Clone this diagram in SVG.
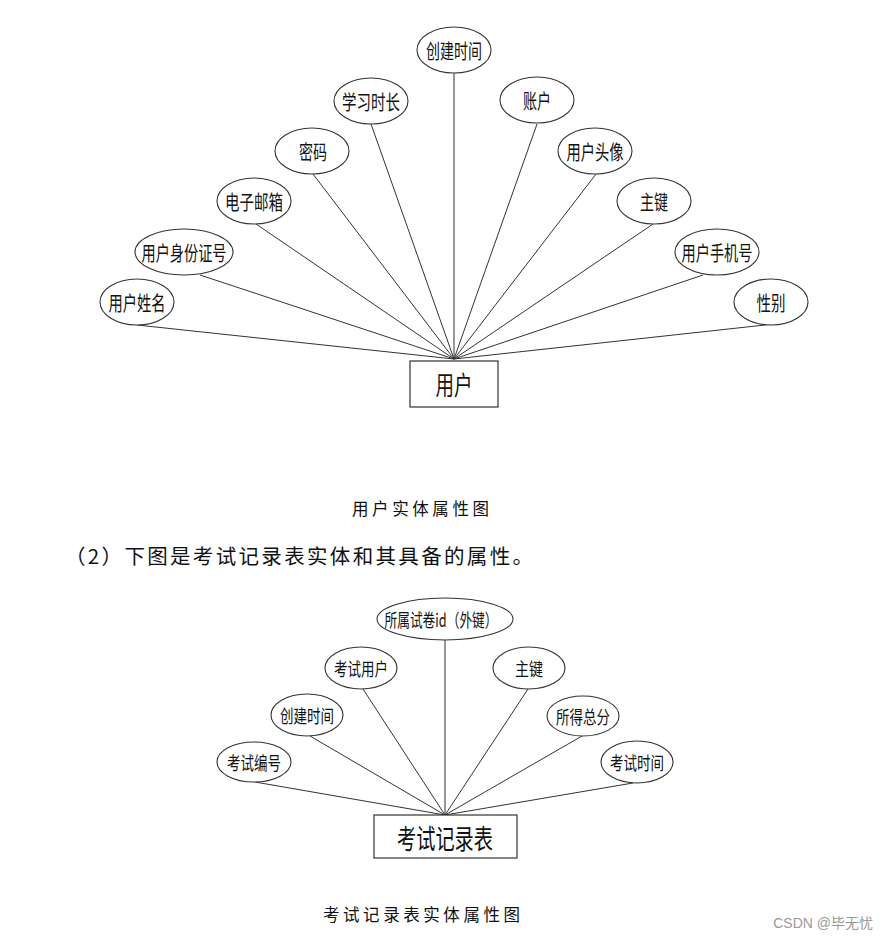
<svg xmlns="http://www.w3.org/2000/svg" width="888" height="940" viewBox="0 0 888 940">
<style>
.attr ellipse{fill:#fff;stroke:#333;stroke-width:1.1}
.attr text{font-family:"Noto Sans CJK SC","Noto Sans",sans-serif;font-size:20px;fill:#111;text-anchor:middle;dominant-baseline:central}
.bot text{font-size:18.5px}
.ent rect{fill:#fff;stroke:#333;stroke-width:1.2}
.ent text{font-family:"Noto Sans CJK SC","Noto Sans",sans-serif;fill:#111;text-anchor:middle;dominant-baseline:central}
#conn line{stroke:#333;stroke-width:1}
.cap{font-family:"Noto Sans CJK SC",sans-serif;fill:#111;dominant-baseline:central}
</style>
<rect width="888" height="940" fill="#fff"/>
<g id="conn">
<line x1="137" y1="325" x2="454" y2="359"/>
<line x1="200" y1="275" x2="454" y2="359"/>
<line x1="256" y1="224" x2="454" y2="359"/>
<line x1="313" y1="174" x2="454" y2="359"/>
<line x1="371" y1="124" x2="454" y2="359"/>
<line x1="454" y1="73" x2="454" y2="359"/>
<line x1="537" y1="124" x2="454" y2="359"/>
<line x1="596" y1="174" x2="454" y2="359"/>
<line x1="653" y1="224" x2="454" y2="359"/>
<line x1="703" y1="275" x2="454" y2="359"/>
<line x1="765" y1="325" x2="454" y2="359"/>
<line x1="255" y1="782" x2="445" y2="815"/>
<line x1="310" y1="736" x2="445" y2="815"/>
<line x1="363" y1="689" x2="445" y2="815"/>
<line x1="445" y1="640" x2="445" y2="815"/>
<line x1="528" y1="689" x2="445" y2="815"/>
<line x1="582" y1="736" x2="445" y2="815"/>
<line x1="633" y1="783" x2="445" y2="815"/>
</g>
<g id="a_chuangjian" class="attr"><ellipse cx="454" cy="50" rx="37" ry="23"/><text x="454" y="50" textLength="56" lengthAdjust="spacingAndGlyphs">创建时间</text></g>
<g id="a_xuexi" class="attr"><ellipse cx="371" cy="101" rx="37" ry="23"/><text x="371" y="101" textLength="58" lengthAdjust="spacingAndGlyphs">学习时长</text></g>
<g id="a_mima" class="attr"><ellipse cx="312" cy="151" rx="37" ry="23"/><text x="313" y="151" textLength="28" lengthAdjust="spacingAndGlyphs">密码</text></g>
<g id="a_email" class="attr"><ellipse cx="254" cy="201" rx="37" ry="23"/><text x="254" y="201" textLength="58" lengthAdjust="spacingAndGlyphs">电子邮箱</text></g>
<g id="a_idcard" class="attr"><ellipse cx="184" cy="252" rx="49" ry="23"/><text x="184" y="252" textLength="85" lengthAdjust="spacingAndGlyphs">用户身份证号</text></g>
<g id="a_name" class="attr"><ellipse cx="137" cy="302" rx="37" ry="23"/><text x="137" y="302" textLength="57" lengthAdjust="spacingAndGlyphs">用户姓名</text></g>
<g id="a_zhanghu" class="attr"><ellipse cx="537" cy="100" rx="37" ry="23"/><text x="537" y="100" textLength="28" lengthAdjust="spacingAndGlyphs">账户</text></g>
<g id="a_avatar" class="attr"><ellipse cx="595" cy="151" rx="37" ry="23"/><text x="595" y="151" textLength="57" lengthAdjust="spacingAndGlyphs">用户头像</text></g>
<g id="a_pk" class="attr"><ellipse cx="654" cy="201" rx="37" ry="23"/><text x="654" y="201" textLength="28" lengthAdjust="spacingAndGlyphs">主键</text></g>
<g id="a_phone" class="attr"><ellipse cx="717" cy="252" rx="42" ry="23"/><text x="717" y="252" textLength="71" lengthAdjust="spacingAndGlyphs">用户手机号</text></g>
<g id="a_gender" class="attr"><ellipse cx="771" cy="302" rx="37" ry="23"/><text x="771" y="302" textLength="29" lengthAdjust="spacingAndGlyphs">性别</text></g>
<g id="e_user" class="ent"><rect x="410" y="361" width="88" height="46"/><text x="454" y="383" font-size="26" textLength="37" lengthAdjust="spacingAndGlyphs">用户</text></g>
<text class="cap" x="352" y="508" font-size="16.5" textLength="137" lengthAdjust="spacing">用户实体属性图</text>
<text class="cap" x="65" y="555" font-size="20.5" textLength="468" lengthAdjust="spacing">（2）下图是考试记录表实体和其具备的属性。</text>
<g id="b_paper" class="attr bot"><ellipse cx="445" cy="619" rx="68" ry="21"/><text x="441" y="619" textLength="113" lengthAdjust="spacingAndGlyphs">所属试卷id（外键）</text></g>
<g id="b_user" class="attr bot"><ellipse cx="361" cy="668" rx="36" ry="21"/><text x="361" y="668" textLength="54" lengthAdjust="spacingAndGlyphs">考试用户</text></g>
<g id="b_created" class="attr bot"><ellipse cx="307" cy="715" rx="36" ry="21"/><text x="307" y="715" textLength="54" lengthAdjust="spacingAndGlyphs">创建时间</text></g>
<g id="b_no" class="attr bot"><ellipse cx="254" cy="762" rx="37" ry="20"/><text x="254" y="762" textLength="54" lengthAdjust="spacingAndGlyphs">考试编号</text></g>
<g id="b_pk" class="attr bot"><ellipse cx="529" cy="668" rx="36" ry="21"/><text x="529" y="668" textLength="28" lengthAdjust="spacingAndGlyphs">主键</text></g>
<g id="b_score" class="attr bot"><ellipse cx="583" cy="716" rx="36" ry="20"/><text x="583" y="716" textLength="54" lengthAdjust="spacingAndGlyphs">所得总分</text></g>
<g id="b_time" class="attr bot"><ellipse cx="637" cy="762" rx="36" ry="21"/><text x="637" y="762" textLength="54" lengthAdjust="spacingAndGlyphs">考试时间</text></g>
<g id="e_exam" class="ent"><rect x="374" y="815" width="143" height="43"/><text x="445" y="837" font-size="27" textLength="96" lengthAdjust="spacingAndGlyphs">考试记录表</text></g>
<text class="cap" x="323" y="914" font-size="16.5" textLength="197" lengthAdjust="spacing">考试记录表实体属性图</text>
<text x="873" y="923" font-family="'Liberation Sans','Noto Sans CJK SC',sans-serif" font-size="14" fill="#999" text-anchor="end" dominant-baseline="central">CSDN @毕无忧</text>
</svg>
